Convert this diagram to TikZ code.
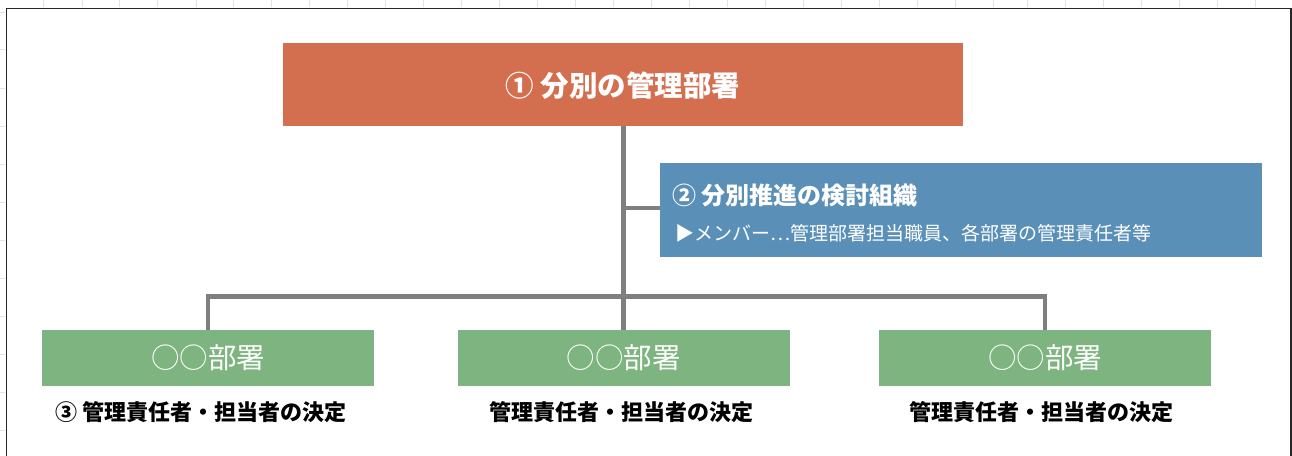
\documentclass[tikz,border=0pt]{standalone}
\usepackage{fontspec}
\setmainfont{Noto Sans CJK JP}
\definecolor{orangebox}{HTML}{D36E4E}
\definecolor{bluebox}{HTML}{5A8FB8}
\definecolor{greenbox}{HTML}{7DB47F}
\definecolor{linegray}{HTML}{7F7F7F}
\definecolor{gridgray}{HTML}{E2E2E2}
\begin{document}
\begin{tikzpicture}[x=1pt,y=-1pt,
  conn/.style={draw=linegray,line width=4.5pt},
  greentext/.style={text=white,font=\fontsize{28.5}{32}\selectfont},
  subtext/.style={text=black,font=\fontsize{22}{26}\selectfont\bfseries}]
\useasboundingbox (0,0) rectangle (1292,455);
\fill[white] (0,0) rectangle (1292,455);
% faint grid ticks outside frame
\foreach \x in {43,82,119,157,196,233,271,309,347,385,423,461,499,537,575,613,651,689,727,765,803,841,879,917,955,993,1027,1065,1103,1141,1179,1217,1255}
  \draw[gridgray,line width=1pt] (\x,0) -- (\x,7);
\foreach \y in {12,49,88,126,164,202,240,278,316,354,392,430}
  \draw[gridgray,line width=1pt] (0,\y) -- (5,\y);
% frame
\draw[black!85,line width=1.5pt] (6.5,460) -- (6.5,8.5) -- (1291,8.5) -- (1291,460);
% boxes
\fill[orangebox] (283,43) rectangle (963,126);
\fill[bluebox] (660,163) rectangle (1262,257);
\fill[greenbox] (42,330) rectangle (374,386);
\fill[greenbox] (458,330) rectangle (790,386);
\fill[greenbox] (879,330) rectangle (1211,386);
\coordinate (topb) at (623.5,126);
\coordinate (bluel) at (660,208);
\coordinate (g1) at (208,330);
\coordinate (g2) at (623.5,330);
\coordinate (g3) at (1045,330);
\coordinate (jl) at (208,296.5);
\coordinate (jr) at (1045,296.5);
\coordinate (b) at (623.5,208);
% connectors
\draw[conn] (topb) -- (g2);
\draw[conn] (b) -- (bluel);
\draw[conn,line join=miter] (g1) -- (jl) -- (jr) -- (g3);
% texts
\node[text=white,font=\fontsize{28.5}{32}\selectfont\bfseries] (t1) at (623,86) {① 分別の管理部署};
\node[anchor=west,text=white,font=\fontsize{24}{28}\selectfont\bfseries,inner sep=0pt] (t2) at (672,195) {② 分別推進の検討組織};
\node[anchor=west,text=white,font=\fontsize{19}{24}\selectfont,inner sep=0pt] (t3) at (675,233) {▶メンバー…管理部署担当職員、各部署の管理責任者等};
\node[greentext] (n1) at (208,358) {○○部署};
\node[greentext] (n2) at (623.5,358) {○○部署};
\node[greentext] (n3) at (1045,358) {○○部署};
\node[subtext] (s1) at (201,412) {③ 管理責任者・担当者の決定};
\node[subtext] (s2) at (621,412) {管理責任者・担当者の決定};
\node[subtext] (s3) at (1041.5,412) {管理責任者・担当者の決定};
\end{tikzpicture}
\end{document}
